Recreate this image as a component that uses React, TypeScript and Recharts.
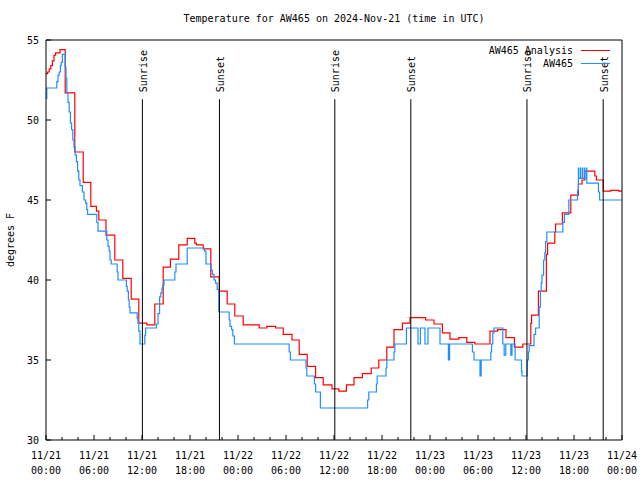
import React from 'react';
import { LineChart, Line, XAxis, YAxis, ReferenceLine, Legend } from 'recharts';

// hours since 11/21 00:00 UTC
const analysisHours = [
  0, 0.2, 0.4, 0.6, 0.8, 1.0, 1.2, 1.75, 2.4, 3.6, 4.65, 5.6, 6.3, 6.6, 7.5, 8.6, 9.6, 10.65,
  11.6, 12.6, 13.6, 14.65, 15.55, 16.6, 17.65, 18.6, 18.8, 19.65, 20.6, 21.65, 22.65, 23.6,
  24.65, 26.65, 27.6, 28.7, 29.65, 30.75, 31.65, 32.65, 33.7, 34.65, 35.75, 36.6, 37.55, 38.5,
  39.55, 40.65, 41.6, 42.6, 43.5, 44.55, 45.5, 47.45, 48.5, 49.55, 50.5, 51.6, 52.6, 53.6,
  55.5, 56.45, 57.5, 58.55, 59.6, 60.6, 60.7, 61.55, 62.55, 62.7, 63.6, 63.7, 64.55, 65.6,
  66.55, 67.0, 67.35, 68.6, 68.8, 69.65, 70.6, 71.6, 72,
];
const analysisTemps = [
  52.9, 53.0, 53.2, 53.4, 53.7, 54.05, 54.2, 54.4, 51.7, 48.0, 46.1, 44.6, 44.3, 43.75, 42.8, 41.25, 40.1, 38.8,
  37.3, 37.2, 38.5, 40.8, 41.3, 42.2, 42.6, 42.3, 42.2, 41.95, 40.2, 39.3, 38.5, 37.75,
  37.2, 37.0, 37.1, 37.0, 36.6, 36.25, 35.35, 34.6, 33.9, 33.45, 33.2, 33.05, 33.45, 33.9,
  34.15, 34.5, 35.0, 35.8, 36.9, 37.3, 37.65, 37.5, 37.25, 36.7, 36.3, 36.4, 36.1, 36.0,
  36.8, 36.9, 36.4, 35.8, 36.0, 37.3, 37.8, 39.3, 41.6, 42.3, 43.0, 43.5, 44.2, 45.3,
  46.0, 46.25, 46.8, 46.5, 46.25, 45.55, 45.6, 45.55, 45.55,
];

const stationHours = [
  0, 0.1, 1.35, 1.5, 1.65, 1.8, 1.9, 2.05, 2.4, 2.5, 2.6, 2.75, 2.9, 3.05, 3.2, 3.35, 3.5, 3.65,
  3.8, 3.95, 4.1, 4.25, 4.55, 4.75, 4.95, 5.1, 5.2, 6.35, 6.5, 7.6, 7.75, 7.9, 8.0, 8.15, 8.9, 9.0,
  10.05, 10.15, 10.3, 10.4, 10.5, 11.4, 11.5, 11.6, 11.75, 12.35, 12.45, 13.8, 14.0, 14.2, 14.35,
  14.5, 14.6, 14.75, 16.1, 16.25, 17.65, 19.8, 20.0, 20.65, 20.8, 21.0, 21.2, 21.4, 21.6, 22.9,
  23.0, 23.2, 23.35, 23.55, 30.4, 30.55, 32.5, 32.6, 33.55, 33.7, 34.3, 40.2, 40.35, 41.3, 41.4,
  42.5, 42.6, 43.5, 43.6, 45.05, 46.5, 46.8, 47.37, 47.75, 49.25, 50.3, 50.45, 53.3, 53.5, 54.25,
  54.4, 55.6, 55.7, 55.85, 56.0, 57.1, 57.27, 57.47, 58.1, 58.25, 58.64, 59.44, 59.5, 60.15, 60.3,
  60.4, 61.0, 61.2, 61.65, 61.8, 61.9, 62.0, 62.2, 62.35, 62.45, 62.6, 64.6, 64.8, 65.35, 66.45,
  66.55, 66.58, 66.8, 66.83, 67.05, 67.08, 67.3, 67.33, 67.55, 67.6, 69.05, 69.2, 72,
];
const stationTemps = [
  51.35, 52.0, 52.4, 52.8, 53.0, 53.4, 53.6, 54.1, 53.3, 52.6, 51.7, 51.1, 50.5, 49.8, 49.4, 48.75, 48.3, 47.8,
  47.4, 46.8, 46.25, 45.9, 45.5, 45.0, 44.8, 44.4, 44.1, 43.6, 43.05, 42.5, 42.1, 41.8, 41.25, 41.0, 40.5, 40.0,
  39.6, 39.3, 38.75, 38.3, 37.95, 37.6, 37.3, 36.8, 36.0, 36.55, 37.0, 37.25, 37.9, 38.95, 39.2,
  39.5, 39.7, 40.0, 40.5, 41.0, 42.0, 41.8, 41.0, 40.6, 40.35, 40.0, 39.8, 39.4, 38.0, 37.5,
  37.1, 36.9, 36.5, 36.0, 35.5, 35.0, 34.5, 34.0, 33.5, 33.0, 32.0, 32.5, 33.0, 33.5, 34.0,
  34.5, 35.0, 35.5, 36.0, 37.0, 36.0, 37.0, 36.0, 37.0, 36.0, 35.0, 36.0, 35.5, 35.0, 34.0,
  35.0, 35.5, 36.0, 36.7, 37.0, 36.0, 35.3, 36.0, 35.3, 36.0, 35.0, 34.3, 34.0, 35.0, 35.5,
  35.9, 36.6, 37.0, 38.3, 39.3, 39.8, 40.3, 41.25, 41.7, 42.4, 43.0, 43.6, 44.1, 45.0, 45.6,
  47.0, 46.35, 47.0, 46.35, 47.0, 46.35, 47.0, 46.35, 47.0, 46.05, 45.5, 45.0, 45.0,
];

const seriesNames = ['AW465 Analysis', 'AW465'];
const seriesColors = ['#ff0000', '#1e90ff'];

const eventHours = [12.05, 21.68, 36.1, 45.6, 60.12, 69.65];
const eventNames = ['Sunrise', 'Sunset', 'Sunrise', 'Sunset', 'Sunrise', 'Sunset'];

const hourTicks = Array.from({ length: 37 }, (_, i) => i * 2);
const dateLabels = ['11/21', '11/21', '11/21', '11/21', '11/22', '11/22', '11/22', '11/22', '11/23', '11/23', '11/23', '11/23', '11/24'];
const timeLabels = ['00:00', '06:00', '12:00', '18:00', '00:00', '06:00', '12:00', '18:00', '00:00', '06:00', '12:00', '18:00', '00:00'];
const tempTicks = [30, 35, 40, 45, 50, 55];

const analysisData = analysisHours.map((h, i) => ({ h, v: analysisTemps[i] }));
const stationData = stationHours.map((h, i) => ({ h, v: stationTemps[i] }));

const FONT = '"DejaVu Sans Mono", "Liberation Mono", monospace';
const markerTop = 51.3; // where the sunrise/sunset markers start

const BottomTick = (props: any) => {
  const { x, y, payload } = props;
  const major = payload.value % 6 === 0;
  const i = payload.value / 6;
  return (
    <g>
      <line x1={x} x2={x} y1={y} y2={y - (major ? 5 : 3)} stroke="#000" />
      {major && (
        <text x={x} y={y} textAnchor="middle" fontFamily={FONT} fontSize={10} fill="#000">
          <tspan x={x} dy={19}>{dateLabels[i]}</tspan>
          <tspan x={x} dy={15}>{timeLabels[i]}</tspan>
        </text>
      )}
    </g>
  );
};

const TopTick = (props: any) => {
  const { x, y, payload } = props;
  const major = payload.value % 6 === 0;
  return <line x1={x} x2={x} y1={y} y2={y + (major ? 5 : 3)} stroke="#000" />;
};

const LeftTick = (props: any) => {
  const { x, y, payload } = props;
  return (
    <g>
      <line x1={x} x2={x + 5} y1={y} y2={y} stroke="#000" />
      <text x={x - 7} y={y} dy="0.35em" textAnchor="end" fontFamily={FONT} fontSize={10} fill="#000">
        {payload.value}
      </text>
    </g>
  );
};

const RightTick = (props: any) => {
  const { x, y } = props;
  return <line x1={x} x2={x - 5} y1={y} y2={y} stroke="#000" />;
};

const eventLabel = (name: string) => (props: any) => {
  const vb = props.viewBox;
  return (
    <text
      transform={`translate(${vb.x + 4.5}, ${vb.y - 7}) rotate(-90)`}
      fontFamily={FONT}
      fontSize={10}
      fill="#000"
    >
      {name}
    </text>
  );
};

// keep gnuplot's key order: analysis first
const renderLegend = () => (
  <div style={{ fontFamily: FONT, fontSize: 10, color: '#000' }}>
    {seriesNames.map((name, i) => (
      <div
        key={name}
        style={{ display: 'flex', justifyContent: 'flex-end', alignItems: 'center', height: 13, lineHeight: '13px' }}
      >
        <span>{name}</span>
        <span style={{ display: 'inline-block', width: 29, marginLeft: 8, borderTop: `1.2px solid ${seriesColors[i]}` }} />
      </div>
    ))}
  </div>
);

export default function App() {
  return (
    <div style={{ position: 'absolute', left: 0, top: 0, width: 640, height: 480, background: '#fff' }}>
      <div
        style={{
          position: 'absolute', left: 46, top: 13, width: 576, textAlign: 'center',
          fontFamily: FONT, fontSize: 10, lineHeight: '12px', color: '#000', zIndex: 2,
        }}
      >
        Temperature for AW465 on 2024-Nov-21 (time in UTC)
      </div>
      <LineChart width={640} height={480} margin={{ top: 0, right: 0, bottom: 0, left: 0 }}>
        <XAxis
          dataKey="h"
          type="number"
          domain={[0, 72]}
          ticks={hourTicks}
          interval={0}
          height={40}
          tickSize={0}
          tickMargin={0}
          tick={BottomTick}
          axisLine={{ stroke: '#000' }}
          allowDataOverflow
        />
        <XAxis
          xAxisId="top"
          orientation="top"
          dataKey="h"
          type="number"
          domain={[0, 72]}
          ticks={hourTicks}
          interval={0}
          height={40}
          tickSize={0}
          tickMargin={0}
          tick={TopTick}
          axisLine={{ stroke: '#000' }}
        />
        <YAxis
          type="number"
          domain={[30, 55]}
          ticks={tempTicks}
          interval={0}
          width={46}
          tickSize={0}
          tickMargin={0}
          tick={LeftTick}
          axisLine={{ stroke: '#000' }}
          label={(p: any) => {
            const vb = p.viewBox;
            return (
              <text
                transform={`translate(${vb.x + 14}, ${vb.y + vb.height / 2}) rotate(-90)`}
                textAnchor="middle"
                fontFamily={FONT}
                fontSize={10}
                fill="#000"
              >
                degrees F
              </text>
            );
          }}
        />
        <YAxis
          yAxisId="right"
          orientation="right"
          type="number"
          domain={[30, 55]}
          ticks={tempTicks}
          interval={0}
          width={18}
          tickSize={0}
          tickMargin={0}
          tick={RightTick}
          axisLine={{ stroke: '#000' }}
        />
        <Legend
          content={renderLegend}
          layout="horizontal"
          verticalAlign="middle"
          align="center"
          wrapperStyle={{ top: 44, right: 30, width: 'auto' }}
        />
        <Line
          data={analysisData}
          dataKey="v"
          type="stepAfter"
          stroke={seriesColors[0]}
          strokeWidth={1.2}
          dot={false}
          activeDot={false}
          isAnimationActive={false}
          name={seriesNames[0]}
        />
        <Line
          data={stationData}
          dataKey="v"
          type="stepAfter"
          stroke={seriesColors[1]}
          strokeWidth={1.2}
          dot={false}
          activeDot={false}
          isAnimationActive={false}
          name={seriesNames[1]}
        />
        {eventHours.map((h, i) => (
          <ReferenceLine
            key={i}
            segment={[{ x: h, y: markerTop }, { x: h, y: 30 }]}
            stroke="#000"
            strokeWidth={1}
            ifOverflow="visible"
            label={eventLabel(eventNames[i])}
          />
        ))}
      </LineChart>
    </div>
  );
}
